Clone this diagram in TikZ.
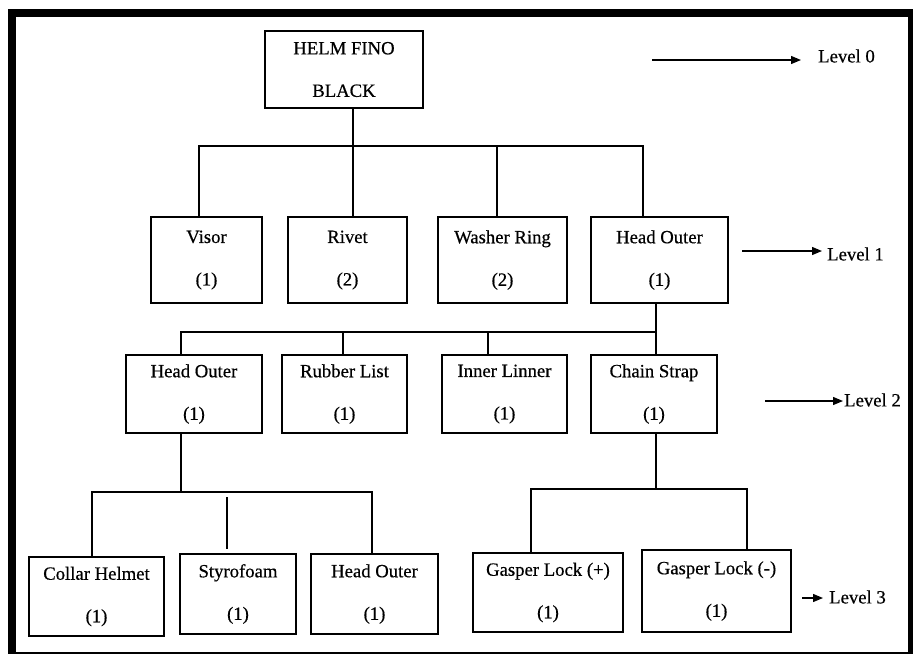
\documentclass[tikz,border=0pt]{standalone}
\usepackage{fontspec}
\setmainfont{Liberation Serif}
\newfontfamily\heavyserif[FakeBold=0.5]{Liberation Serif}
\usetikzlibrary{arrows.meta}
\begin{document}
\begin{tikzpicture}[x=1pt,y=-1pt,
  box/.style={draw, line width=1.3pt, align=center, inner sep=0pt,
    font=\heavyserif\fontsize{18.7}{42.5}\selectfont},
  lvl/.style={inner sep=0pt, anchor=west, font=\heavyserif\fontsize{18.7}{22}\selectfont},
  conn/.style={line width=1.3pt},
  arr/.style={line width=1.3pt, -{Triangle[length=10pt,width=8pt]}}]
\useasboundingbox (0,0) rectangle (913,654);
% frame
\draw[line width=8pt] (12,9) -- (12,654);
\draw[line width=8pt] (8,13) -- (913,13);
\draw[line width=5pt] (910.5,9) -- (910.5,654);
\draw[line width=2pt] (8,652.5) -- (913,652.5);
% level 0
\node[box, minimum width=158pt, minimum height=77pt] (root) at (344,69.5) {HELM FINO\\BLACK};
% level 1
\node[box, minimum width=111pt, minimum height=86pt] (visor) at (206.5,260) {Visor\\(1)};
\node[box, minimum width=119pt, minimum height=86pt] (rivet) at (347.5,260) {Rivet\\(2)};
\node[box, minimum width=129pt, minimum height=86pt] (washer) at (502.5,260) {Washer Ring\\(2)};
\node[box, minimum width=137pt, minimum height=86pt] (headone) at (659.5,260) {Head Outer\\(1)};
% level 2
\node[box, minimum width=136pt, minimum height=78pt] (headtwo) at (194,394) {Head Outer\\(1)};
\node[box, minimum width=125pt, minimum height=78pt] (rubber) at (344.5,394) {Rubber List\\(1)};
\node[box, minimum width=125pt, minimum height=78pt] (inner) at (504.5,394) {Inner Linner\\(1)};
\node[box, minimum width=126pt, minimum height=78pt] (chain) at (654,394) {Chain Strap\\(1)};
% level 3
\node[box, minimum width=135pt, minimum height=79pt] (collar) at (96.5,596.5) {Collar Helmet\\(1)};
\node[box, minimum width=116pt, minimum height=80pt] (styro) at (238,594) {Styrofoam\\(1)};
\node[box, minimum width=127pt, minimum height=80pt] (headthree) at (374.5,594) {Head Outer\\(1)};
\node[box, minimum width=150pt, minimum height=79pt] (gplus) at (548,592.5) {Gasper Lock (+)\\(1)};
\node[box, minimum width=149pt, minimum height=82pt] (gminus) at (716.5,591) {Gasper Lock (-)\\(1)};
% bus coordinates
\coordinate (b1l) at (199,146);
\coordinate (b1m) at (353,146);
\coordinate (b1w) at (497,146);
\coordinate (b1r) at (643,146);
\coordinate (b2l) at (181,332);
\coordinate (b2m) at (343,332);
\coordinate (b2i) at (488,332);
\coordinate (b2r) at (656,332);
\coordinate (b3l) at (92,492);
\coordinate (b3m) at (181,492);
\coordinate (b3s) at (227,492);
\coordinate (b3r) at (372,492);
\coordinate (b4l) at (531,489);
\coordinate (b4m) at (656,489);
\coordinate (b4r) at (747,489);
% level 0 -> 1
\draw[conn] (root.south -| b1m) -- (b1m |- rivet.north);
\draw[conn] (b1l |- visor.north) -- (b1l) -- (b1r) -- (b1r |- headone.north);
\draw[conn] (b1w) -- (b1w |- washer.north);
% level 1 -> 2
\draw[conn] (headone.south -| b2r) -- (b2r |- chain.north);
\draw[conn] (b2l |- headtwo.north) -- (b2l) -- (b2r);
\draw[conn] (b2m) -- (b2m |- rubber.north);
\draw[conn] (b2i) -- (b2i |- inner.north);
% level 2 -> 3 (left)
\draw[conn] (headtwo.south -| b3m) -- (b3m);
\draw[conn] (b3l |- collar.north) -- (b3l) -- (b3r) -- (b3r |- headthree.north);
\draw[conn, shorten <=5pt, shorten >=4pt] (b3s) -- (b3s |- styro.north);
% level 2 -> 3 (right)
\draw[conn] (chain.south -| b4m) -- (b4m);
\draw[conn] (b4l |- gplus.north) -- (b4l) -- (b4r) -- (b4r |- gminus.north);
% level labels
\node[lvl] (l0) at (818,56) {Level 0};
\node[lvl] (l1) at (827,254) {Level 1};
\node[lvl] (l2) at (844,400) {Level 2};
\node[lvl] (l3) at (829,597) {Level 3};
\coordinate (a0) at (652,60);
\coordinate (a1) at (742,251);
\coordinate (a2) at (765,401);
\coordinate (a3) at (802,598);
\draw[arr, shorten >=17pt] (a0) -- (a0 -| l0.west);
\draw[arr, shorten >=5pt] (a1) -- (a1 -| l1.west);
\draw[arr, shorten >=1pt] (a2) -- (a2 -| l2.west);
\draw[arr, shorten >=6pt] (a3) -- (a3 -| l3.west);
\end{tikzpicture}
\end{document}
